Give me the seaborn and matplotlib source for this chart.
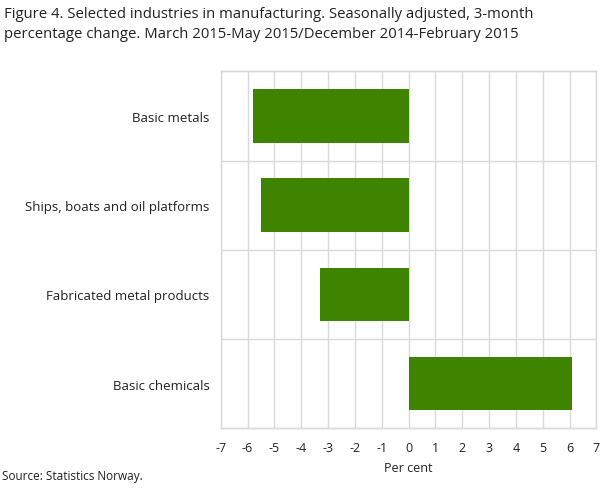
import matplotlib
matplotlib.use("Agg")
import matplotlib.pyplot as plt
import numpy as np
import pandas as pd
import seaborn as sns

industries = [
    "Basic metals",
    "Ships, boats and oil platforms",
    "Fabricated metal products",
    "Basic chemicals",
]
change = [-5.8, -5.5, -3.3, 6.1]
x_ticks = list(range(-7, 8))

df = pd.DataFrame({"industry": industries, "change": change})

sns.set_theme(style="white")
plt.rcParams["font.family"] = ["Open Sans", "DejaVu Sans"]
plt.rcParams["axes.unicode_minus"] = False

fig = plt.figure(figsize=(6.08, 4.89), dpi=100)
ax = fig.add_axes([0.363, 0.122, 0.618, 0.730])

sns.barplot(data=df, x="change", y="industry", orient="h",
            color="#3f8400", saturation=1, width=0.6, linewidth=0,
            ax=ax, zorder=3)

grid_c = "#d9d9d9"
ax.set_xlim(-7, 7)
ax.set_ylim(len(industries) - 0.5, -0.5)
ax.set_xticks(x_ticks)
ax.set_xticklabels([str(t) for t in x_ticks])
for x in x_ticks:
    ax.axvline(x, color=grid_c, lw=1, zorder=1)
for y in np.arange(-0.5, len(industries), 1.0):
    ax.axhline(y, color=grid_c, lw=1, zorder=1, clip_on=False)
for s in ax.spines.values():
    s.set_visible(True)
    s.set_color(grid_c)
    s.set_linewidth(1)

ax.tick_params(axis="both", length=0, colors="#222222")
ax.tick_params(axis="x", pad=9, labelsize=9)
ax.tick_params(axis="y", pad=8, labelsize=9.5)
ax.set_ylabel("")
ax.set_xlabel("Per cent", fontsize=9, color="#222222", labelpad=5)

fig.text(0.007, 0.985,
         "Figure 4. Selected industries in manufacturing. Seasonally adjusted, 3-month\n"
         "percentage change. March 2015-May 2015/December 2014-February 2015",
         ha="left", va="top", fontsize=10.7, color="#222222", linespacing=1.45)
fig.text(0.003, 0.012, "Source: Statistics Norway.", ha="left", va="bottom",
         fontsize=8.5, color="#222222")

fig.savefig("out.png", dpi=100)
